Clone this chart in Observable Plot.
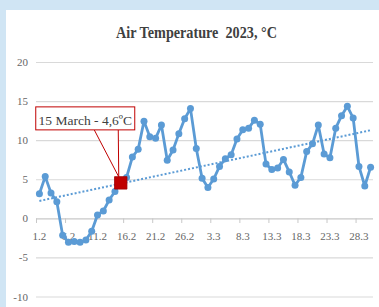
<!DOCTYPE html>
<html><head><meta charset="utf-8">
<script src="https://cdn.jsdelivr.net/npm/d3@7"></script>
<script src="https://cdn.jsdelivr.net/npm/@observablehq/plot@0.6"></script>
<style>
html,body{margin:0;padding:0;background:#d0e5f4;width:379px;height:307px;overflow:hidden}
#panel{position:absolute;left:6px;top:10px;width:373px;height:297px;background:#fff}
#title{position:absolute;left:3.5px;top:13px;width:373px;text-align:center;font:bold 16.5px "Liberation Serif",serif;color:#404040;transform:scaleX(0.86);white-space:pre}
#chart{position:absolute;left:0;top:40px}
</style></head><body>
<div id="panel"><div id="title">Air Temperature  2023, °C</div><div id="chart"></div></div>
<script>
const temps = [3.2, 5.4, 3.3, 2.2, -2.1, -3.0, -2.9, -3.0, -2.7, -1.6,
  0.5, 1.0, 2.4, 3.5, 4.6, 5.3, 7.9, 8.9, 12.5, 10.5,
  10.3, 12.0, 7.5, 8.8, 10.9, 12.8, 14.1, 9.0, 5.2, 4.0,
  5.1, 6.7, 7.7, 8.2, 10.2, 11.4, 11.6, 12.6, 12.1, 7.0,
  6.3, 6.5, 7.6, 6.0, 4.3, 5.3, 8.6, 9.6, 12.0, 8.3,
  7.8, 11.6, 13.2, 14.4, 12.9, 6.7, 4.2, 6.6];
const tickLabels = ["1.2","6.2","11.2","16.2","21.2","26.2","3.3","8.3","13.3","18.3","23.3","28.3"];
const tickIndex = [0,5,10,15,20,25,30,35,40,45,50,55];
const yTicks = [-10,-5,0,5,10,15,20];
const highlightIndex = 14;
const highlightLabel = "15 March - 4,6ºC";

const data = temps.map((t, i) => ({i, t}));
const blue = "#5b9bd5";

const plot = Plot.plot({
  width: 373, height: 257,
  marginLeft: 30, marginRight: 6, marginTop: 12, marginBottom: 10.5,
  x: {domain: [-0.5, temps.length - 0.5], axis: null},
  y: {domain: [-10, 20], ticks: yTicks, tickSize: 0, tickPadding: 8.5, label: null, tickFormat: d => String(d)},
  style: {fontFamily: "Liberation Serif, serif", fontSize: "11px", color: "#666666", background: "transparent"},
  marks: [
    Plot.ruleY(yTicks.filter(d => d !== 0), {stroke: "#d9d9d9", strokeWidth: 1.2}),
    Plot.ruleY([0], {stroke: "#c8c8c8", strokeWidth: 1.2}),
    Plot.ruleX(tickIndex.map(d => d - 0.5), {y1: 0, y2: -0.6, stroke: "#c8c8c8", strokeWidth: 1}),
    Plot.text(tickIndex, {x: d => d, y: 0, text: (d, i) => tickLabels[i], dy: 17.5, fill: "#666666", fontSize: 11}),
    Plot.line(data, {x: "i", y: "t", stroke: blue, strokeWidth: 2.8}),
    Plot.dot(data, {x: "i", y: "t", r: 3.5, fill: blue}),
    Plot.linearRegressionY(data, {x: "i", y: "t", stroke: blue, strokeWidth: 2, strokeDasharray: "2 2", strokeLinecap: "butt", ci: 0}),
    Plot.dot([data[highlightIndex]], {x: "i", y: "t", symbol: "square", r: 7, fill: "#c00000", stroke: "#a00000", strokeWidth: 0.8})
  ]
});
document.getElementById("chart").appendChild(plot);

// callout anchored on the highlighted point via the plot's scales
const sx = plot.scale("x").apply(highlightIndex);
const sy = plot.scale("y").apply(temps[highlightIndex]);
const svg = d3.select(plot);
const g = svg.append("g").attr("transform", `translate(${sx},${sy})`);
g.append("path")
  .attr("d", "M-26,-52.5 L-1.5,-5.5 L-2,-52.5")
  .attr("fill", "#fff").attr("stroke", "#c00000").attr("stroke-width", 1);
g.append("rect")
  .attr("x", -84.5).attr("y", -75.5).attr("width", 99).attr("height", 23)
  .attr("fill", "#fff").attr("stroke", "#c00000").attr("stroke-width", 1);
g.append("text")
  .attr("x", -35).attr("y", -57.5).attr("text-anchor", "middle")
  .attr("font-family", "Liberation Serif, serif").attr("font-size", 13.5)
  .attr("fill", "#404040").text(highlightLabel);
</script>
</body></html>
